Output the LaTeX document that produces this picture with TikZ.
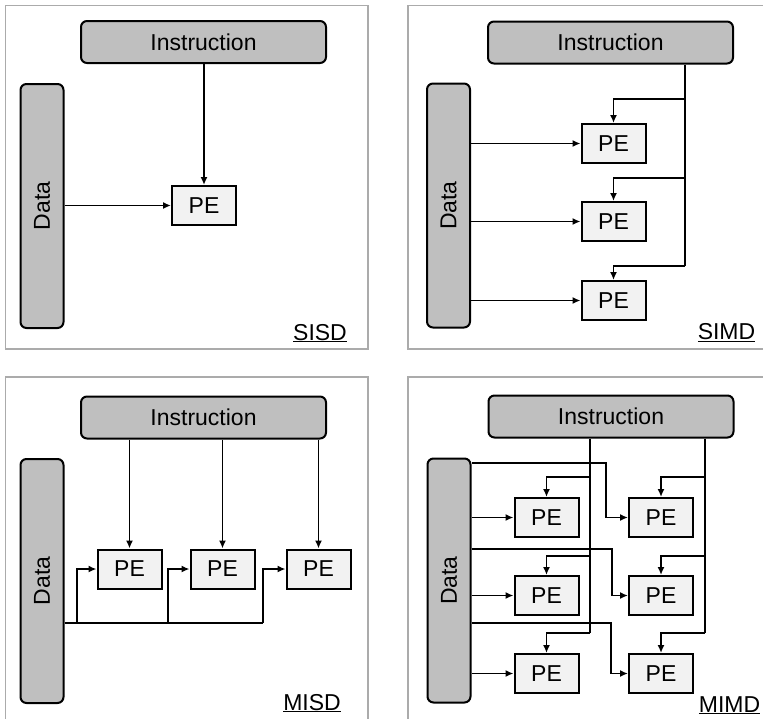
\documentclass[tikz,border=0pt]{standalone}
\usepackage{fontspec}
\setmainfont{Liberation Sans}
\usetikzlibrary{arrows.meta}
\definecolor{boxgray}{HTML}{BFBFBF}
\definecolor{pefill}{HTML}{F2F2F2}
\definecolor{framegray}{HTML}{ABABAB}
\tikzset{
  unitfont/.style={font=\fontsize{23}{27}\selectfont},
  instr/.style={draw, line width=2pt, fill=boxgray, rounded corners=6pt,
    minimum width=245pt, minimum height=42pt, inner sep=0pt, unitfont},
  datab/.style={draw, line width=2pt, fill=boxgray, rounded corners=6pt,
    minimum width=43pt, minimum height=244pt, inner sep=0pt, unitfont},
  pe/.style={draw, line width=2pt, fill=pefill,
    minimum width=64pt, minimum height=39pt, inner sep=0pt, unitfont},
  arr/.style={line width=1.6pt, -{Latex[length=8pt,width=7pt]}},
  wire/.style={line width=1.6pt},
  frame/.style={draw=framegray, line width=1.3pt},
  caption/.style={anchor=base, inner sep=0pt, unitfont}
}
\begin{document}
\begin{tikzpicture}[x=1pt,y=-1pt]
\useasboundingbox (0,0) rectangle (763,718);

% panel frames
\draw[frame] (5.7,5.7) rectangle (368,349);
\draw[frame] (408,5.7) rectangle (775,349);
\draw[frame] (5.7,377) rectangle (368,730);
\draw[frame] (408,377) rectangle (775,730);

% ---------- SISD ----------
\node[instr] (i1) at (203.5,42) {Instruction};
\node[datab] (d1) at (42,206) {\rotatebox{90}{Data}};
\node[pe] (p1) at (204,205.5) {PE};
\draw[arr] (p1.north |- i1.south) -- (p1.north);
\draw[arr] (p1.west -| d1.east) -- (p1.west);
\node[caption] (c1) at (320,340) {\underline{SISD}};

% ---------- SIMD ----------
\node[instr] (i2) at (610.5,42.5) {Instruction};
\node[datab] (d2) at (448.5,205.5) {\rotatebox{90}{Data}};
\node[pe] (p2a) at (613.5,143.5) {PE};
\node[pe] (p2b) at (613.5,221.5) {PE};
\node[pe] (p2c) at (613.5,300.5) {PE};
\coordinate (s2a) at (685,99);
\coordinate (s2b) at (685,178);
\coordinate (s2c) at (685,266);
\draw[wire] (s2c |- i2.south) -- (s2c);
\draw[arr] (s2a) -| (p2a.north);
\draw[arr] (s2b) -| (p2b.north);
\draw[arr] (s2c) -| (p2c.north);
\draw[arr] (p2a.west -| d2.east) -- (p2a.west);
\draw[arr] (p2b.west -| d2.east) -- (p2b.west);
\draw[arr] (p2c.west -| d2.east) -- (p2c.west);
\node[caption] (c2) at (726.5,339.5) {\underline{SIMD}};

% ---------- MISD ----------
\node[instr] (i3) at (203.5,417.5) {Instruction};
\node[datab] (d3) at (42,581) {\rotatebox{90}{Data}};
\node[pe] (p3a) at (129.5,569) {PE};
\node[pe] (p3b) at (222.5,569) {PE};
\node[pe] (p3c) at (318.5,569) {PE};
\draw[arr] (p3a.north |- i3.south) -- (p3a.north);
\draw[arr] (p3b.north |- i3.south) -- (p3b.north);
\draw[arr] (p3c.north |- i3.south) -- (p3c.north);
\coordinate (m3a) at (77,623);
\coordinate (m3b) at (168,623);
\coordinate (m3c) at (263,623);
\draw[wire] (m3c -| d3.east) -- (m3c);
\draw[arr] (m3a) |- (p3a.west);
\draw[arr] (m3b) |- (p3b.west);
\draw[arr] (m3c) |- (p3c.west);
\node[caption] (c3) at (312,710) {\underline{MISD}};

% ---------- MIMD ----------
\node[instr] (i4) at (611,416.5) {Instruction};
\node[datab] (d4) at (449,580.5) {\rotatebox{90}{Data}};
\node[pe] (q1) at (546.5,517.5) {PE};
\node[pe] (q2) at (546.5,595.5) {PE};
\node[pe] (q3) at (546.5,673.5) {PE};
\node[pe] (r1) at (661,517.5) {PE};
\node[pe] (r2) at (661,595.5) {PE};
\node[pe] (r3) at (661,673.5) {PE};
% instruction streams
\coordinate (u1) at (590,477);
\coordinate (u2) at (590,556);
\coordinate (u3) at (590,633);
\coordinate (v1) at (705,477);
\coordinate (v2) at (705,556);
\coordinate (v3) at (705,633);
\draw[wire] (u3 |- i4.south) -- (u3);
\draw[wire] (v3 |- i4.south) -- (v3);
\draw[arr] (u1) -| (q1.north);
\draw[arr] (u2) -| (q2.north);
\draw[arr] (u3) -| (q3.north);
\draw[arr] (v1) -| (r1.north);
\draw[arr] (v2) -| (r2.north);
\draw[arr] (v3) -| (r3.north);
% data streams
\draw[arr] (q1.west -| d4.east) -- (q1.west);
\draw[arr] (q2.west -| d4.east) -- (q2.west);
\draw[arr] (q3.west -| d4.east) -- (q3.west);
\coordinate (w1) at (606,463);
\coordinate (w2) at (612,549);
\coordinate (w3) at (611,623);
\draw[arr] (w1 -| d4.east) -- (w1) |- (r1.west);
\draw[arr] (w2 -| d4.east) -- (w2) |- (r2.west);
\draw[arr] (w3 -| d4.east) -- (w3) |- (r3.west);
\node[caption] (c4) at (729.5,712) {\underline{MIMD}};
\end{tikzpicture}
\end{document}
